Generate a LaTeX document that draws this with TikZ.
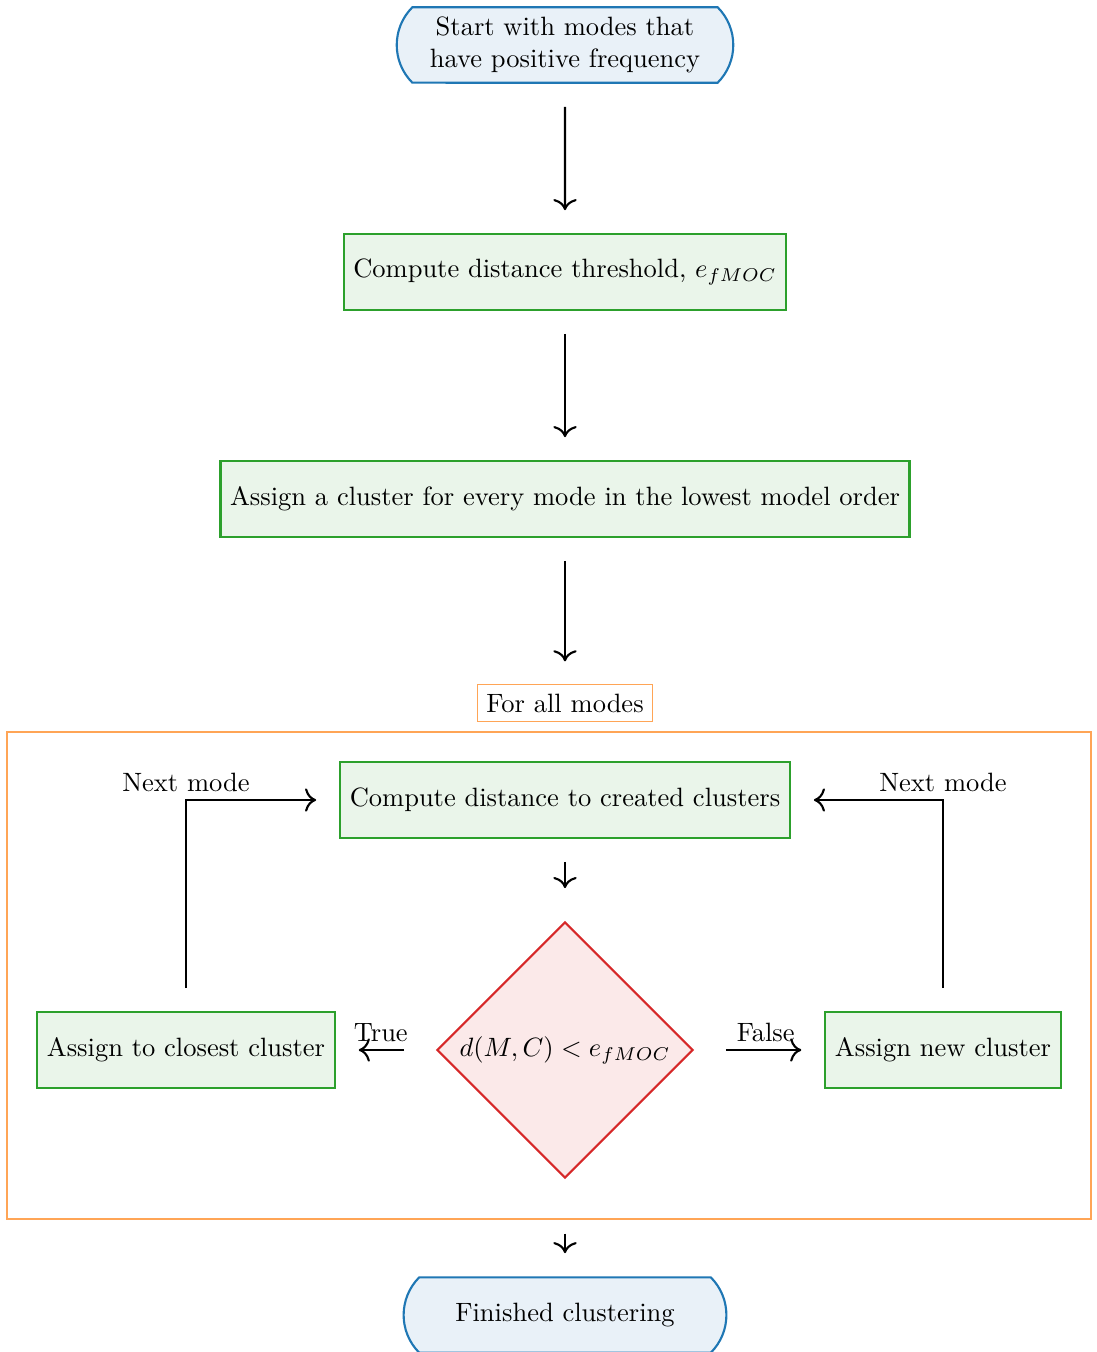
\documentclass[tikz,border=0pt]{standalone}
\usetikzlibrary{shapes.misc,shapes.geometric,arrows.meta}
\definecolor{cblue}{RGB}{31,119,180}
\definecolor{cgreen}{RGB}{44,160,44}
\definecolor{cred}{RGB}{214,39,40}
\definecolor{corange}{RGB}{255,127,14}
\begin{document}
\begin{tikzpicture}[x=0.3774pt,y=-0.3774pt,
  terminal/.style={rounded rectangle, rounded rectangle arc length=90,
    draw=cblue, fill=cblue!10, thick, minimum height=1cm, align=center},
  process/.style={rectangle, draw=cgreen, fill=cgreen!10, thick,
    minimum height=1cm, inner xsep=3.6pt},
  decision/.style={diamond, draw=cred, fill=cred!10, thick,
    minimum width=96.6pt, minimum height=96.6pt, inner sep=0pt},
  frame/.style={rectangle, draw=corange!70, thin},
  arr/.style={-{To[scale=1.25]}, thick, shorten <=8.7pt, shorten >=8.7pt},
  tag/.style={inner sep=2.6pt}]
\useasboundingbox (0,0) rectangle (1096,1352);

% main sequence
\node[terminal, inner xsep=9.5pt] (start) at (565,45)
  {Start with modes that\\have positive frequency};
\node[process] (thresh) at (565,272) {Compute distance threshold, $e_{fMOC}$};
\node[process] (init) at (565,499) {Assign a cluster for every mode in the lowest model order};

% loop over all modes
\node[frame, minimum width=409.1pt, minimum height=183.8pt] (loop) at (549,975.5) {};
\node[frame, inner xsep=3.5pt, inner ysep=3.3pt] (looptag) at (565,703) {For all modes};

\node[process] (dist) at (565,800) {Compute distance to created clusters};
\node[decision] (test) at (565,1050) {$d(M,C) < e_{fMOC}$};
\node[process] (closest) at (186,1050) {Assign to closest cluster};
\node[process] (new) at (943,1050) {Assign new cluster};

\node[terminal, inner xsep=19pt] (finish) at (565,1315) {Finished clustering};

% connectors
\draw[arr] (start) -- (thresh);
\draw[arr] (thresh) -- (init);
\draw[arr] (init) -- (looptag);
\draw[arr, shorten >=12.4pt] (dist) -- (test);
\draw[arr, shorten <=12pt] (test.west) -- node[pos=0.55, above, tag] {True} (closest.east);
\draw[arr, shorten <=12pt] (test.east) -- node[pos=0.55, above, tag] {False} (new.west);
\draw[arr] (closest.north) |- node[pos=0.5, above, tag] {Next mode} (dist.west);
\draw[arr] (new.north) |- node[pos=0.5, above, tag] {Next mode} (dist.east);
\draw[arr, shorten <=5.3pt] (finish.north |- loop.south) -- (finish.north);
\end{tikzpicture}
\end{document}
